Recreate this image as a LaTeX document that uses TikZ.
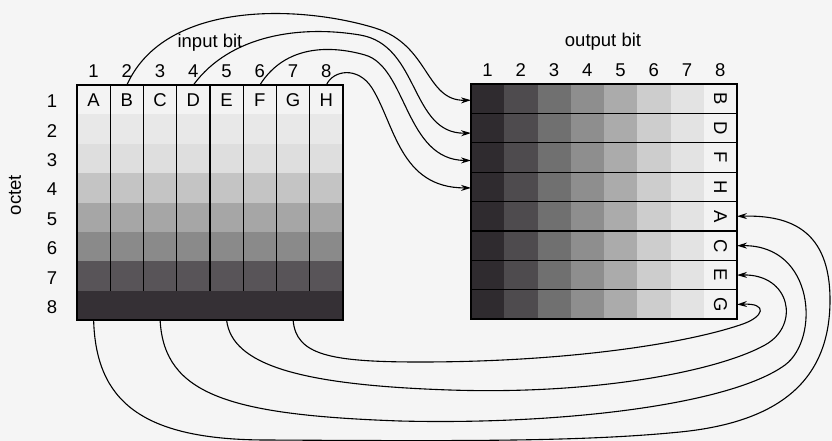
\documentclass[tikz,border=0pt]{standalone}
\usepackage{fontspec}
\setmainfont{Liberation Sans}
\usetikzlibrary{arrows.meta,calc}
\definecolor{bg}{RGB}{245,245,245}
\definecolor{lra}{RGB}{243,243,243}
\definecolor{lrb}{RGB}{232,232,232}
\definecolor{lrc}{RGB}{222,222,222}
\definecolor{lrd}{RGB}{196,196,196}
\definecolor{lre}{RGB}{166,166,166}
\definecolor{lrf}{RGB}{138,138,138}
\definecolor{lrg}{RGB}{88,84,88}
\definecolor{lrh}{RGB}{53,48,53}
\definecolor{rca}{RGB}{47,43,47}
\definecolor{rcb}{RGB}{78,75,78}
\definecolor{rcc}{RGB}{112,112,112}
\definecolor{rcd}{RGB}{142,142,142}
\definecolor{rce}{RGB}{171,171,171}
\definecolor{rcf}{RGB}{205,205,205}
\definecolor{rcg}{RGB}{227,227,227}
\definecolor{rch}{RGB}{243,243,243}
\begin{document}
\begin{tikzpicture}[x=1pt,y=-1pt,
  cell/.style={minimum width=33.25pt,minimum height=29.4pt,inner sep=0pt,outer sep=0pt,draw=none},
  lbl/.style={font=\fontsize{18.5}{20}\selectfont,inner sep=0pt,outer sep=0pt},
  gridline/.style={line width=1.3pt,black},
  border/.style={line width=1.6pt,black},
  wire/.style={line width=1.1pt,black,-{Stealth[length=10pt,width=6pt]}}]
\path[use as bounding box,fill=bg] (0,0) rectangle (832,441);

% left grid cells (rows shaded)
\foreach \r/\col in {1/lra,2/lrb,3/lrc,4/lrd,5/lre,6/lrf,7/lrg,8/lrh}
  \foreach \c in {1,...,8}
    \node[cell,fill=\col] (L-\r-\c) at ({77+33.25*(\c-0.5)},{85+29.4*(\r-0.5)}) {};
% right grid cells (columns shaded)
\foreach \c/\col in {1/rca,2/rcb,3/rcc,4/rcd,5/rce,6/rcf,7/rcg,8/rch}
  \foreach \r in {1,...,8}
    \node[cell,fill=\col] (R-\r-\c) at ({471+33.25*(\c-0.5)},{84+29.4*(\r-0.5)}) {};

% grid lines
\foreach \c in {1,...,7}
  \draw[gridline] (L-1-\c.north east) -- (L-7-\c.south east);
\draw[border] (L-1-1.north west) rectangle (L-8-8.south east);
\foreach \r in {1,...,7}
  \draw[gridline] (R-\r-1.south west) -- (R-\r-8.south east);
\draw[border] (R-1-1.north west) rectangle (R-8-8.south east);

% letters
\foreach \c/\t in {1/A,2/B,3/C,4/D,5/E,6/F,7/G,8/H}
  \node[lbl] (LT-\c) at (L-1-\c) {\t};
\foreach \r/\t in {1/B,2/D,3/F,4/H,5/A,6/C,7/E,8/G}
  \node[lbl,rotate=-90] (RT-\r) at (R-\r-8) {\t};

% labels
\foreach \c in {1,...,8} {
  \node[lbl,anchor=base] (LC-\c) at ({77+33.25*(\c-0.5)},78) {\c};
  \node[lbl,anchor=base] (RC-\c) at ({471+33.25*(\c-0.5)},77) {\c};
  \node[lbl,anchor=base] (LR-\c) at (52,{85+29.4*(\c-0.5)+8}) {\c};
}
\node[lbl,anchor=base] (inlab) at (210,48) {input bit};
\node[lbl,anchor=base] (outlab) at (603,47) {output bit};
\node[lbl,rotate=90] (octet) at (15,195) {octet};

% top connectors
\draw[wire] (L-1-2.north) .. controls (165,0) and (300,5) .. (375,28)
  .. controls (430,45) and (425,101) .. ($(R-1-1.west)+(0,1.5)$);
\draw[wire] (L-1-4.north) .. controls (230,35) and (300,25) .. (360,35)
  .. controls (420,45) and (410,134) .. ($(R-2-1.west)+(0,5)$);
\draw[wire] (L-1-6.north) .. controls (285,45) and (330,45) .. (365,55)
  .. controls (407,67) and (405,160) .. ($(R-3-1.west)+(0,3)$);
\draw[wire] (L-1-8.north) .. controls (333,70) and (358,66) .. (372,88)
  .. controls (395,125) and (400,188) .. ($(R-4-1.west)+(0,1)$);

% bottom connectors
\draw[wire] (L-8-1.south) .. controls (96,400) and (140,440) .. (267,440)
  .. controls (450,441) and (580,442) .. (680,432)
  .. controls (780,422) and (830,380) .. (830,300)
  .. controls (830,230) and (790,215) .. (R-5-8.east);
\draw[wire] (L-8-3.south) .. controls (164,395) and (230,415) .. (400,421)
  .. controls (560,425) and (730,405) .. (785,365)
  .. controls (820,339) and (815,245) .. (R-6-8.east);
\draw[wire] (L-8-5.south) .. controls (232,365) and (300,385) .. (450,390)
  .. controls (600,395) and (720,370) .. (765,345)
  .. controls (801,325) and (790,274) .. (R-7-8.east);
\draw[wire] (L-8-7.south) .. controls (296,355) and (330,362) .. (420,362)
  .. controls (560,362) and (680,345) .. (740,325)
  .. controls (765,317) and (768,303) .. (R-8-8.east);
\end{tikzpicture}
\end{document}
